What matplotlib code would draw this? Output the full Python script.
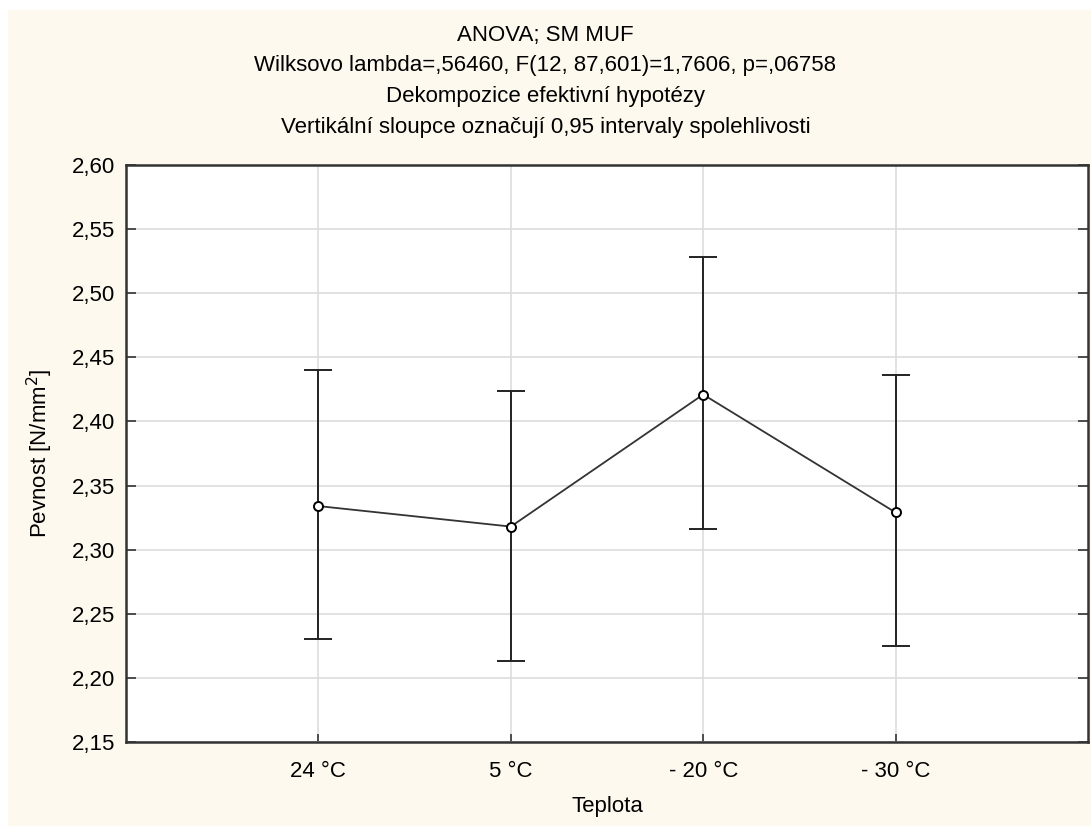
import matplotlib
matplotlib.use("Agg")
import matplotlib.pyplot as plt
from matplotlib.patches import Rectangle
from matplotlib.ticker import FuncFormatter
import numpy as np

plt.rcParams['font.family'] = ['Liberation Sans', 'DejaVu Sans']

# data
categories = ['24 °C', '5 °C', '- 20 °C', '- 30 °C']
means = [2.334, 2.318, 2.421, 2.329]
upper = [2.440, 2.424, 2.528, 2.436]
lower = [2.230, 2.213, 2.316, 2.225]

title_lines = [
    'ANOVA; SM MUF',
    'Wilksovo lambda=,56460, F(12, 87,601)=1,7606, p=,06758',
    'Dekompozice efektivní hypotézy',
    'Vertikální sloupce označují 0,95 intervaly spolehlivosti',
]

fig = plt.figure(figsize=(10.91, 8.26), dpi=100, facecolor='white')
# cream panel behind everything
fig.patches.append(Rectangle((8 / 1091, 0), 1, 1 - 10 / 826, transform=fig.transFigure,
                             facecolor='#fef9ee', edgecolor='none', zorder=-10))
ax = fig.add_axes([126 / 1091, 1 - 742 / 826, (1088 - 126) / 1091, (742 - 165) / 826])
ax.set_facecolor('white')

x = np.arange(1, len(categories) + 1)
m = np.array(means)
yerr = [m - np.array(lower), np.array(upper) - m]

ax.errorbar(x, m, yerr=yerr, fmt='none', ecolor='#222222', elinewidth=1.4,
            capsize=10, capthick=1.4, zorder=3)
ax.plot(x, m, color='#333333', linewidth=1.3, marker='o', markersize=6.5,
        markerfacecolor='white', markeredgecolor='black', markeredgewidth=1.4, zorder=4)

ax.set_xlim(0, 5)
ax.set_ylim(2.15, 2.60)
ax.set_xticks(x)
ax.set_xticklabels(categories)
ax.set_yticks(np.arange(2.15, 2.6001, 0.05))
ax.yaxis.set_major_formatter(FuncFormatter(lambda v, p: ('%.2f' % v).replace('.', ',')))

ax.grid(True, color='#dddddd', linewidth=1.2, zorder=0)
ax.set_axisbelow(True)
for s in ax.spines.values():
    s.set_color('#333333')
    s.set_linewidth(1.8)

ax.tick_params(axis='both', direction='in', labelsize=16, colors='#333333',
               labelcolor='black', width=1.2)
ax.tick_params(axis='y', length=7, right=True, pad=8)
ax.tick_params(axis='x', length=6, pad=14)

ax.set_xlabel('Teplota', fontsize=16, labelpad=10)
ax.set_ylabel('Pevnost [N/mm$^2$]', fontsize=16, labelpad=12)

for i, line in enumerate(title_lines):
    fig.text(0.5, 1 - (35 + 30.7 * i) / 826, line, ha='center', va='center', fontsize=16)

fig.savefig('out.png', dpi=100, facecolor=fig.get_facecolor())
